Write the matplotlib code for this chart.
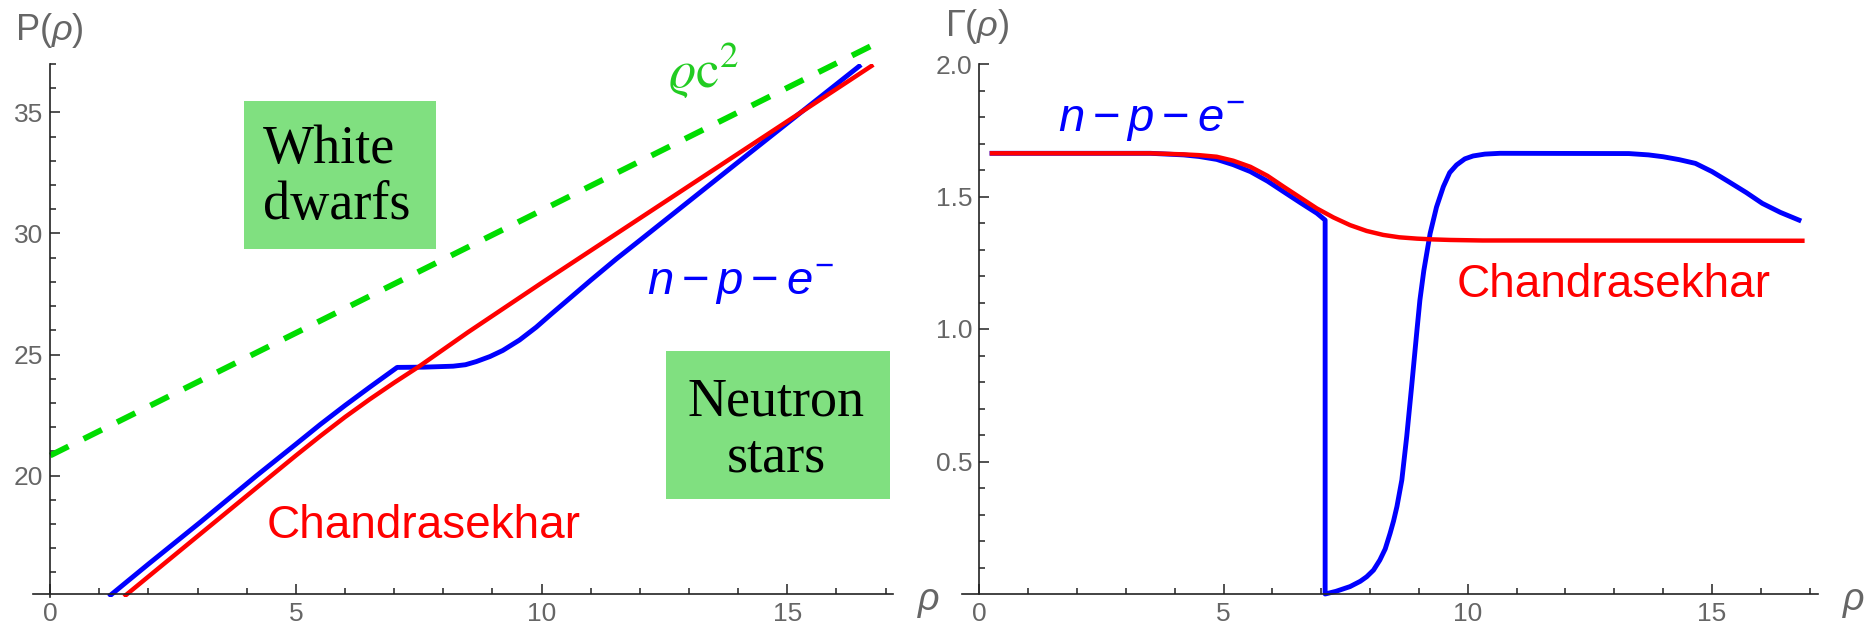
import matplotlib
matplotlib.use("Agg")
import matplotlib.pyplot as plt
from matplotlib.patches import Rectangle
from matplotlib.ticker import FixedLocator, NullFormatter, FormatStrFormatter

# ---- data ----
# left panel: log pressure vs log density
p_rho_npe = [1.19, 2.0, 3.05, 4.2, 5.0, 5.5, 6.0, 6.5, 7.06, 7.6, 8.2, 8.45, 8.67, 8.95, 9.21,
             9.55, 9.89, 10.2, 10.5, 11.0, 11.52, 12.0, 14.0, 16.5]
p_npe = [15.0, 16.35, 18.07, 20.0, 21.3, 22.12, 22.9, 23.65, 24.47, 24.48, 24.52, 24.58, 24.71,
         24.92, 25.17, 25.6, 26.13, 26.68, 27.2, 28.07, 28.95, 29.72, 32.95, 36.97]
p_rho_ch = [1.5, 3.0, 4.5, 5.0, 5.5, 6.0, 6.5, 7.0, 7.5, 8.5, 10.0, 12.0, 14.0, 16.75]
p_ch = [15.0, 17.5, 20.0, 20.83, 21.64, 22.42, 23.15, 23.84, 24.5, 25.92, 27.96, 30.63, 33.3,
        36.97]
p_rho_c2 = [0.0, 16.7]
p_c2 = [20.83, 37.74]

# right panel: adiabatic index
g_rho_ch = [0.26, 2.0, 3.5, 4.18, 4.5, 4.86, 5.2, 5.55, 5.9, 6.23, 6.57, 6.91, 7.25, 7.59,
            7.93, 8.27, 8.6, 8.96, 9.3, 9.64, 10.3, 11.0, 16.85]
g_ch = [1.663, 1.663, 1.663, 1.659, 1.656, 1.650, 1.635, 1.612, 1.578, 1.537, 1.496, 1.455,
        1.421, 1.392, 1.370, 1.355, 1.346, 1.341, 1.338, 1.336, 1.334, 1.334, 1.333]
g_rho_npe = [0.26, 2.0, 3.5, 4.18, 4.5, 4.86, 5.2, 5.55, 5.9, 6.23, 6.57, 6.91, 7.08, 7.08,
             7.3, 7.59, 7.8, 7.93, 8.07, 8.2, 8.31, 8.41, 8.48, 8.55, 8.65, 8.75, 8.85, 8.96,
             9.02, 9.1, 9.23, 9.36, 9.5, 9.63, 9.77, 9.94, 10.11, 10.35, 10.66, 13.3, 13.7,
             14.0, 14.33, 14.66, 15.0, 15.34, 15.7, 16.03, 16.4, 16.78]
g_npe = [1.663, 1.663, 1.663, 1.657, 1.651, 1.640, 1.620, 1.594, 1.558, 1.518, 1.477, 1.437,
         1.411, 0.0, 0.01, 0.028, 0.048, 0.065, 0.09, 0.128, 0.17, 0.229, 0.275, 0.33, 0.43,
         0.594, 0.782, 0.996, 1.109, 1.22, 1.361, 1.46, 1.537, 1.59, 1.619, 1.642, 1.653,
         1.66, 1.663, 1.662, 1.657, 1.65, 1.639, 1.625, 1.594, 1.556, 1.515, 1.474, 1.44,
         1.411]

left_yticks = [20, 25, 30, 35]
right_yticks = [0.5, 1.0, 1.5, 2.0]
xticks = [0, 5, 10, 15]

W, H = 1873, 629
BLUE = "#0000ff"
RED = "#ff0000"
GREEN = "#00dd00"
GRAY = "#666666"
AXC = "#222222"
BOX = "#80e080"

plt.rcParams["font.family"] = ["Liberation Sans", "DejaVu Sans"]
plt.rcParams["mathtext.fontset"] = "custom"
plt.rcParams["mathtext.rm"] = "Liberation Sans"
plt.rcParams["mathtext.it"] = "Liberation Sans:italic"
plt.rcParams["mathtext.bf"] = "Liberation Sans:bold"


def px(x, y):
    return x / W, 1 - y / H


def style_axis(ax, xmin, xmax, ymin, ymax, ycross, yticks, yminor, fmt):
    ax.set_xlim(xmin, xmax)
    ax.set_ylim(ymin, ymax)
    for s in ["top", "right"]:
        ax.spines[s].set_visible(False)
    ax.spines["left"].set_position(("data", 0))
    ax.spines["bottom"].set_position(("data", ycross))
    for s in ["left", "bottom"]:
        ax.spines[s].set_color(AXC)
        ax.spines[s].set_linewidth(1.2)
    ax.xaxis.set_major_locator(FixedLocator(xticks))
    ax.xaxis.set_minor_locator(FixedLocator([i for i in range(1, 18) if i % 5]))
    ax.yaxis.set_major_locator(FixedLocator(yticks))
    ax.yaxis.set_minor_locator(FixedLocator(yminor))
    ax.yaxis.set_major_formatter(FormatStrFormatter(fmt))
    ax.xaxis.set_minor_formatter(NullFormatter())
    ax.tick_params(which="both", direction="in", color=AXC, width=1.1,
                   labelsize=19, labelcolor=GRAY)
    ax.tick_params(which="major", length=7.2)
    ax.tick_params(which="minor", length=4.3)
    ax.tick_params(axis="x", pad=6)
    ax.tick_params(axis="y", pad=5)
    ax.set_facecolor("none")


fig = plt.figure(figsize=(W / 100, H / 100), dpi=100)

# ---- left panel ----
ax1 = fig.add_axes([33 / W, 1 - 596.7 / H, 860 / W, 532.7 / H])
style_axis(ax1, -0.35, 17.15, 15.0, 37.0, 15.12, left_yticks,
           [v for v in range(15, 38) if v % 5], "%d")
ax1.spines["left"].set_bounds(15, 37)
ax1.plot(p_rho_c2, p_c2, color=GREEN, lw=4.2, dashes=(3.5, 2.9), clip_on=False)
ax1.plot(p_rho_npe, p_npe, color=BLUE, lw=3.5, solid_capstyle="butt")
ax1.plot(p_rho_ch, p_ch, color=RED, lw=3.2, solid_capstyle="butt")

# ---- right panel ----
ax2 = fig.add_axes([961.7 / W, 1 - 594 / H, 856.8 / W, 530 / H])
style_axis(ax2, -0.36, 17.18, 0.0, 2.0, 0.0, right_yticks,
           [i / 10 for i in range(1, 20) if i % 5], "%.1f")
ax2.plot(g_rho_npe, g_npe, color=BLUE, lw=3.5, clip_on=False)
ax2.plot(g_rho_ch, g_ch, color=RED, lw=3.2, clip_on=False)

# ---- labels ----
fig.text(*px(15, 31), r"$\mathrm{P}(\rho)$", fontsize=26, color=GRAY, va="center", ha="left")
fig.text(*px(945, 27), r"$\Gamma(\rho)$", fontsize=26, color=GRAY, va="center", ha="left")
fig.text(*px(917, 602), r"$\rho$", fontsize=27, color=GRAY, va="center", ha="left")
fig.text(*px(1842, 602), r"$\rho$", fontsize=27, color=GRAY, va="center", ha="left")

fig.text(*px(266.7, 538), "Chandrasekhar", fontsize=33, color=RED, va="baseline", ha="left")
fig.text(*px(1456.7, 297), "Chandrasekhar", fontsize=33, color=RED, va="baseline", ha="left")
fig.text(*px(646.7, 295), r"$n-p-e^{-}$", fontsize=34, color=BLUE, va="baseline", ha="left")
fig.text(*px(1058, 132), r"$n-p-e^{-}$", fontsize=34, color=BLUE, va="baseline", ha="left")
fig.text(*px(668, 88), r"$\varrho\mathrm{c}^{2}$", fontsize=38, color="#22cc22",
         va="baseline", ha="left", math_fontfamily="stix")

# region boxes
fig.patches.append(Rectangle(px(244, 249), 192 / W, 148 / H, transform=fig.transFigure,
                             facecolor=BOX, edgecolor="none", zorder=0))
fig.patches.append(Rectangle(px(666, 499.3), 224 / W, 148.3 / H, transform=fig.transFigure,
                             facecolor=BOX, edgecolor="none", zorder=0))
fig.text(*px(263, 178), "White\ndwarfs", fontsize=39, family="Liberation Serif",
         va="center", ha="left", multialignment="left", linespacing=1.15)
fig.text(*px(776, 430), "Neutron\nstars", fontsize=39, family="Liberation Serif",
         va="center", ha="center", multialignment="center", linespacing=1.15)

fig.savefig("out.png", dpi=100)
